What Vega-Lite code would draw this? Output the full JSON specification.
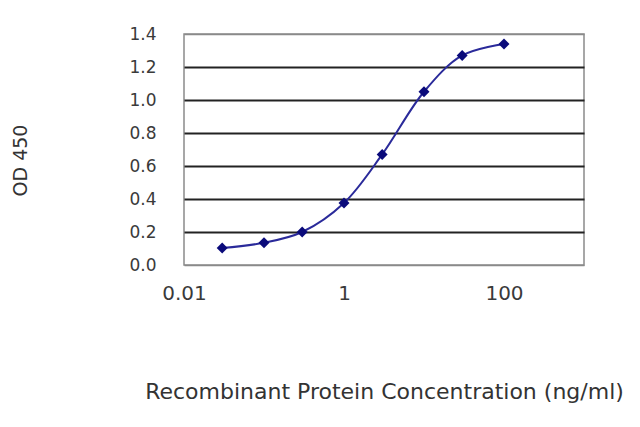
{
  "$schema": "https://vega.github.io/schema/vega-lite/v6.json",
  "width": 400,
  "height": 231,
  "autosize": {"type": "none"},
  "padding": {"left": 184, "top": 34, "right": 56, "bottom": 162},
  "background": "white",
  "config": {
    "view": {"stroke": "#8a8a8a", "strokeWidth": 1.5},
    "font": "DejaVu Sans"
  },
  "data": {
    "values": [
      {"conc": 0.03, "od": 0.103},
      {"conc": 0.1, "od": 0.135},
      {"conc": 0.3, "od": 0.2},
      {"conc": 1, "od": 0.376},
      {"conc": 3, "od": 0.67},
      {"conc": 10, "od": 1.05},
      {"conc": 30, "od": 1.27},
      {"conc": 100, "od": 1.34}
    ]
  },
  "encoding": {
    "x": {
      "field": "conc",
      "type": "quantitative",
      "scale": {"type": "log", "domain": [0.01, 1000], "nice": false},
      "axis": {
        "values": [0.01, 1, 100],
        "format": "~g",
        "grid": false,
        "domain": false,
        "ticks": false,
        "labelPadding": 18,
        "labelFontSize": 20,
        "labelColor": "#3a3a3a",
        "labelFlush": false,
        "title": "Recombinant Protein Concentration (ng/ml)",
        "titleFontSize": 22,
        "titleFontWeight": "normal",
        "titleColor": "#333333",
        "titleBaseline": "alphabetic",
        "titleY": 133,
        "titleX": 200
      }
    },
    "y": {
      "field": "od",
      "type": "quantitative",
      "scale": {"domain": [0, 1.4], "nice": false},
      "axis": {
        "values": [0, 0.2, 0.4, 0.6, 0.8, 1.0, 1.2, 1.4],
        "format": ".1f",
        "grid": true,
        "gridColor": {"condition": {"test": "datum.value < 0.1 || datum.value > 1.3", "value": "#8a8a8a"}, "value": "#222222"},
        "gridWidth": {"condition": {"test": "datum.value < 0.1 || datum.value > 1.3", "value": 1.5}, "value": 2.2},
        "domain": false,
        "ticks": false,
        "labelPadding": 28,
        "labelFontSize": 17,
        "labelColor": "#3a3a3a",
        "labelFlush": false,
        "title": "OD 450",
        "titleFontSize": 19,
        "titleFontWeight": "normal",
        "titleColor": "#333333",
        "titleAngle": -90,
        "titleAlign": "center",
        "titleBaseline": "middle",
        "titleX": -164,
        "titleY": 126
      }
    }
  },
  "layer": [
    {
      "mark": {"type": "line", "color": "#2a2a9a", "strokeWidth": 2, "interpolate": "catmull-rom"}
    },
    {
      "mark": {"type": "point", "shape": "diamond", "filled": true, "color": "#0a0a7a", "size": 120, "opacity": 1}
    }
  ]
}
